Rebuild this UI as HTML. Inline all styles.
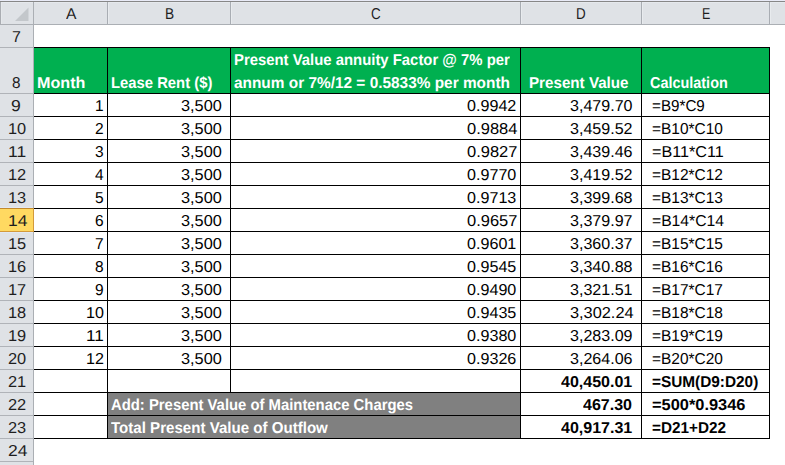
<!DOCTYPE html>
<html><head><meta charset="utf-8"><style>
html,body{margin:0;padding:0;}
body{width:785px;height:465px;overflow:hidden;position:relative;background:#fff;}
#g div{position:absolute;}
.t{position:absolute;font-family:"Liberation Sans",sans-serif;font-size:15.8px;line-height:16px;white-space:pre;transform-origin:0 0;color:#000;text-rendering:geometricPrecision;}
.b{font-weight:bold;}
</style></head><body>
<div id="g">
<div style="left:0px;top:0px;width:785px;height:1px;background:#e9ebf7"></div>
<div style="left:0px;top:1px;width:785px;height:1px;background:#878787"></div>
<div style="left:0px;top:2px;width:785px;height:22px;background:#dfe2e6"></div>
<div style="left:0px;top:2px;width:785px;height:1px;background:#e6e9ed"></div>
<div style="left:0px;top:24px;width:785px;height:1px;background:#abafb4"></div>
<div style="left:0px;top:25px;width:33px;height:440px;background:#dfe2e6"></div>
<div style="left:33px;top:2px;width:1px;height:463px;background:#abafb4"></div>
<div style="left:107px;top:2px;width:1px;height:22px;background:#a9adb3"></div>
<div style="left:108px;top:3px;width:1px;height:21px;background:#e8ebee"></div>
<div style="left:230px;top:2px;width:1px;height:22px;background:#a9adb3"></div>
<div style="left:231px;top:3px;width:1px;height:21px;background:#e8ebee"></div>
<div style="left:520px;top:2px;width:1px;height:22px;background:#a9adb3"></div>
<div style="left:521px;top:3px;width:1px;height:21px;background:#e8ebee"></div>
<div style="left:641px;top:2px;width:1px;height:22px;background:#a9adb3"></div>
<div style="left:642px;top:3px;width:1px;height:21px;background:#e8ebee"></div>
<div style="left:769px;top:2px;width:1px;height:22px;background:#a9adb3"></div>
<div style="left:770px;top:3px;width:1px;height:21px;background:#e8ebee"></div>
<div style="left:0px;top:2px;width:1px;height:22px;background:#aaadb2"></div>
<div style="left:1px;top:3px;width:1px;height:21px;background:#e5e8eb"></div>
<svg style="position:absolute;left:0;top:0" width="33" height="24"><polygon points="28.5,7.5 28.5,21 15,21" fill="#c3c7cb"/></svg>
<div style="left:0px;top:47px;width:33px;height:1px;background:#b0b3b8"></div>
<div style="left:0px;top:93px;width:33px;height:1px;background:#b0b3b8"></div>
<div style="left:0px;top:116px;width:33px;height:1px;background:#b0b3b8"></div>
<div style="left:0px;top:139px;width:33px;height:1px;background:#b0b3b8"></div>
<div style="left:0px;top:162px;width:33px;height:1px;background:#b0b3b8"></div>
<div style="left:0px;top:185px;width:33px;height:1px;background:#b0b3b8"></div>
<div style="left:0px;top:208px;width:33px;height:1px;background:#b0b3b8"></div>
<div style="left:0px;top:231px;width:33px;height:1px;background:#b0b3b8"></div>
<div style="left:0px;top:254px;width:33px;height:1px;background:#b0b3b8"></div>
<div style="left:0px;top:277px;width:33px;height:1px;background:#b0b3b8"></div>
<div style="left:0px;top:300px;width:33px;height:1px;background:#b0b3b8"></div>
<div style="left:0px;top:323px;width:33px;height:1px;background:#b0b3b8"></div>
<div style="left:0px;top:346px;width:33px;height:1px;background:#b0b3b8"></div>
<div style="left:0px;top:369px;width:33px;height:1px;background:#b0b3b8"></div>
<div style="left:0px;top:392px;width:33px;height:1px;background:#b0b3b8"></div>
<div style="left:0px;top:415px;width:33px;height:1px;background:#b0b3b8"></div>
<div style="left:0px;top:438px;width:33px;height:1px;background:#b0b3b8"></div>
<div style="left:0px;top:461px;width:33px;height:1px;background:#b0b3b8"></div>
<div style="left:0px;top:208px;width:33px;height:24px;background:#ffd961"></div>
<div style="left:0px;top:208px;width:33px;height:1px;background:#c28a2e"></div>
<div style="left:0px;top:231px;width:34px;height:1px;background:#d39a3a"></div>
<div style="left:33px;top:208px;width:1px;height:24px;background:#d39a3a"></div>
<div style="left:0px;top:207px;width:33px;height:1px;background:#e2e8f2"></div>
<div style="left:0px;top:232px;width:33px;height:1px;background:#e0e8f4"></div>
<div style="left:34px;top:48px;width:735px;height:45px;background:#00b050"></div>
<div style="left:108px;top:393px;width:412px;height:22px;background:#808080"></div>
<div style="left:108px;top:416px;width:412px;height:22px;background:#808080"></div>
<div style="left:34px;top:47px;width:736px;height:1px;background:#000"></div>
<div style="left:34px;top:93px;width:736px;height:1px;background:#000"></div>
<div style="left:34px;top:116px;width:736px;height:1px;background:#000"></div>
<div style="left:34px;top:139px;width:736px;height:1px;background:#000"></div>
<div style="left:34px;top:162px;width:736px;height:1px;background:#000"></div>
<div style="left:34px;top:185px;width:736px;height:1px;background:#000"></div>
<div style="left:34px;top:208px;width:736px;height:1px;background:#000"></div>
<div style="left:34px;top:231px;width:736px;height:1px;background:#000"></div>
<div style="left:34px;top:254px;width:736px;height:1px;background:#000"></div>
<div style="left:34px;top:277px;width:736px;height:1px;background:#000"></div>
<div style="left:34px;top:300px;width:736px;height:1px;background:#000"></div>
<div style="left:34px;top:323px;width:736px;height:1px;background:#000"></div>
<div style="left:34px;top:346px;width:736px;height:1px;background:#000"></div>
<div style="left:34px;top:369px;width:736px;height:1px;background:#000"></div>
<div style="left:34px;top:392px;width:736px;height:1px;background:#000"></div>
<div style="left:34px;top:415px;width:736px;height:1px;background:#000"></div>
<div style="left:34px;top:438px;width:736px;height:1px;background:#000"></div>
<div style="left:107px;top:47px;width:1px;height:392px;background:#000"></div>
<div style="left:230px;top:47px;width:1px;height:346px;background:#000"></div>
<div style="left:520px;top:47px;width:1px;height:392px;background:#000"></div>
<div style="left:641px;top:47px;width:1px;height:392px;background:#000"></div>
<div style="left:769px;top:47px;width:1px;height:392px;background:#000"></div>
</div>
<div class="t" style="left:65.90px;top:7.00px;color:#1e1e1e;transform:scaleX(0.9900)">A</div>
<div class="t" style="left:165.03px;top:7.00px;color:#1e1e1e;transform:scaleX(0.8667)">B</div>
<div class="t" style="left:370.75px;top:7.00px;color:#1e1e1e;transform:scaleX(0.8500)">C</div>
<div class="t" style="left:576.25px;top:7.00px;color:#1e1e1e;transform:scaleX(0.8500)">D</div>
<div class="t" style="left:702.21px;top:7.00px;color:#1e1e1e;transform:scaleX(0.7889)">E</div>
<div class="t" style="left:11.89px;top:30.00px;color:#1e1e1e;transform:scaleX(1.0143)">7</div>
<div class="t" style="left:12.13px;top:76.00px;color:#1e1e1e;transform:scaleX(0.9700)">8</div>
<div class="t" style="left:11.49px;top:99.00px;color:#1e1e1e;transform:scaleX(1.1143)">9</div>
<div class="t" style="left:7.86px;top:122.00px;color:#1e1e1e;transform:scaleX(1.0375)">10</div>
<div class="t" style="left:7.79px;top:145.00px;color:#1e1e1e;transform:scaleX(1.1067)">11</div>
<div class="t" style="left:7.86px;top:168.00px;color:#1e1e1e;transform:scaleX(1.0375)">12</div>
<div class="t" style="left:7.86px;top:191.00px;color:#1e1e1e;transform:scaleX(1.0375)">13</div>
<div class="t" style="left:7.79px;top:214.00px;color:#1e1e1e;transform:scaleX(1.1067)">14</div>
<div class="t" style="left:7.86px;top:237.00px;color:#1e1e1e;transform:scaleX(1.0375)">15</div>
<div class="t" style="left:7.86px;top:260.00px;color:#1e1e1e;transform:scaleX(1.0375)">16</div>
<div class="t" style="left:7.86px;top:283.00px;color:#1e1e1e;transform:scaleX(1.0375)">17</div>
<div class="t" style="left:7.86px;top:306.00px;color:#1e1e1e;transform:scaleX(1.0375)">18</div>
<div class="t" style="left:7.86px;top:329.00px;color:#1e1e1e;transform:scaleX(1.0375)">19</div>
<div class="t" style="left:7.86px;top:352.00px;color:#1e1e1e;transform:scaleX(1.0375)">20</div>
<div class="t" style="left:7.86px;top:375.00px;color:#1e1e1e;transform:scaleX(1.0375)">21</div>
<div class="t" style="left:7.86px;top:398.00px;color:#1e1e1e;transform:scaleX(1.0375)">22</div>
<div class="t" style="left:7.86px;top:421.00px;color:#1e1e1e;transform:scaleX(1.0375)">23</div>
<div class="t" style="left:7.79px;top:444.00px;color:#1e1e1e;transform:scaleX(1.1067)">24</div>
<div class="t b" style="left:36.58px;top:76.00px;color:#ffffff;transform:scaleX(1.0217)">Month</div>
<div class="t b" style="left:110.66px;top:76.00px;color:#ffffff;transform:scaleX(0.9387)">Lease Rent ($)</div>
<div class="t b" style="left:233.86px;top:53.00px;color:#ffffff;transform:scaleX(0.9418)">Present Value annuity Factor @ 7% per</div>
<div class="t b" style="left:233.83px;top:76.00px;color:#ffffff;transform:scaleX(0.9747)">annum or 7%/12 = 0.5833% per month</div>
<div class="t b" style="left:528.64px;top:76.00px;color:#ffffff;transform:scaleX(0.9608)">Present Value</div>
<div class="t b" style="left:649.79px;top:76.00px;color:#ffffff;transform:scaleX(0.9133)">Calculation</div>
<div class="t" style="left:95.46px;top:99.00px;transform:scaleX(0.9800)">1</div>
<div class="t" style="left:181.47px;top:99.00px;transform:scaleX(1.0316)">3,500</div>
<div class="t" style="left:467.28px;top:99.00px;transform:scaleX(1.0213)">0.9942</div>
<div class="t" style="left:570.48px;top:99.00px;transform:scaleX(1.0167)">3,479.70</div>
<div class="t" style="left:652.34px;top:99.00px;transform:scaleX(0.9623)">=B9*C9</div>
<div class="t" style="left:95.46px;top:122.00px;transform:scaleX(0.9800)">2</div>
<div class="t" style="left:181.47px;top:122.00px;transform:scaleX(1.0316)">3,500</div>
<div class="t" style="left:467.26px;top:122.00px;transform:scaleX(1.0435)">0.9884</div>
<div class="t" style="left:570.48px;top:122.00px;transform:scaleX(1.0167)">3,459.52</div>
<div class="t" style="left:652.32px;top:122.00px;transform:scaleX(0.9789)">=B10*C10</div>
<div class="t" style="left:95.46px;top:145.00px;transform:scaleX(0.9800)">3</div>
<div class="t" style="left:181.47px;top:145.00px;transform:scaleX(1.0316)">3,500</div>
<div class="t" style="left:467.26px;top:145.00px;transform:scaleX(1.0435)">0.9827</div>
<div class="t" style="left:570.48px;top:145.00px;transform:scaleX(1.0167)">3,439.46</div>
<div class="t" style="left:652.28px;top:145.00px;transform:scaleX(1.0221)">=B11*C11</div>
<div class="t" style="left:95.46px;top:168.00px;transform:scaleX(0.9800)">4</div>
<div class="t" style="left:181.47px;top:168.00px;transform:scaleX(1.0316)">3,500</div>
<div class="t" style="left:467.28px;top:168.00px;transform:scaleX(1.0213)">0.9770</div>
<div class="t" style="left:570.48px;top:168.00px;transform:scaleX(1.0167)">3,419.52</div>
<div class="t" style="left:652.32px;top:168.00px;transform:scaleX(0.9789)">=B12*C12</div>
<div class="t" style="left:95.46px;top:191.00px;transform:scaleX(0.9800)">5</div>
<div class="t" style="left:181.47px;top:191.00px;transform:scaleX(1.0316)">3,500</div>
<div class="t" style="left:467.28px;top:191.00px;transform:scaleX(1.0213)">0.9713</div>
<div class="t" style="left:570.48px;top:191.00px;transform:scaleX(1.0167)">3,399.68</div>
<div class="t" style="left:652.32px;top:191.00px;transform:scaleX(0.9789)">=B13*C13</div>
<div class="t" style="left:95.46px;top:214.00px;transform:scaleX(0.9800)">6</div>
<div class="t" style="left:181.47px;top:214.00px;transform:scaleX(1.0316)">3,500</div>
<div class="t" style="left:467.26px;top:214.00px;transform:scaleX(1.0435)">0.9657</div>
<div class="t" style="left:570.48px;top:214.00px;transform:scaleX(1.0167)">3,379.97</div>
<div class="t" style="left:652.31px;top:214.00px;transform:scaleX(0.9929)">=B14*C14</div>
<div class="t" style="left:95.46px;top:237.00px;transform:scaleX(0.9800)">7</div>
<div class="t" style="left:181.47px;top:237.00px;transform:scaleX(1.0316)">3,500</div>
<div class="t" style="left:467.28px;top:237.00px;transform:scaleX(1.0213)">0.9601</div>
<div class="t" style="left:570.48px;top:237.00px;transform:scaleX(1.0167)">3,360.37</div>
<div class="t" style="left:652.32px;top:237.00px;transform:scaleX(0.9789)">=B15*C15</div>
<div class="t" style="left:95.46px;top:260.00px;transform:scaleX(0.9800)">8</div>
<div class="t" style="left:181.47px;top:260.00px;transform:scaleX(1.0316)">3,500</div>
<div class="t" style="left:467.28px;top:260.00px;transform:scaleX(1.0213)">0.9545</div>
<div class="t" style="left:570.48px;top:260.00px;transform:scaleX(1.0167)">3,340.88</div>
<div class="t" style="left:652.32px;top:260.00px;transform:scaleX(0.9789)">=B16*C16</div>
<div class="t" style="left:95.46px;top:283.00px;transform:scaleX(0.9800)">9</div>
<div class="t" style="left:181.47px;top:283.00px;transform:scaleX(1.0316)">3,500</div>
<div class="t" style="left:467.28px;top:283.00px;transform:scaleX(1.0213)">0.9490</div>
<div class="t" style="left:570.48px;top:283.00px;transform:scaleX(1.0167)">3,321.51</div>
<div class="t" style="left:652.32px;top:283.00px;transform:scaleX(0.9789)">=B17*C17</div>
<div class="t" style="left:85.98px;top:306.00px;transform:scaleX(1.0188)">10</div>
<div class="t" style="left:181.47px;top:306.00px;transform:scaleX(1.0316)">3,500</div>
<div class="t" style="left:467.28px;top:306.00px;transform:scaleX(1.0213)">0.9435</div>
<div class="t" style="left:570.47px;top:306.00px;transform:scaleX(1.0339)">3,302.24</div>
<div class="t" style="left:652.32px;top:306.00px;transform:scaleX(0.9789)">=B18*C18</div>
<div class="t" style="left:85.91px;top:329.00px;transform:scaleX(1.0867)">11</div>
<div class="t" style="left:181.47px;top:329.00px;transform:scaleX(1.0316)">3,500</div>
<div class="t" style="left:467.28px;top:329.00px;transform:scaleX(1.0213)">0.9380</div>
<div class="t" style="left:570.48px;top:329.00px;transform:scaleX(1.0167)">3,283.09</div>
<div class="t" style="left:652.32px;top:329.00px;transform:scaleX(0.9789)">=B19*C19</div>
<div class="t" style="left:85.98px;top:352.00px;transform:scaleX(1.0188)">12</div>
<div class="t" style="left:181.47px;top:352.00px;transform:scaleX(1.0316)">3,500</div>
<div class="t" style="left:467.28px;top:352.00px;transform:scaleX(1.0213)">0.9326</div>
<div class="t" style="left:570.48px;top:352.00px;transform:scaleX(1.0167)">3,264.06</div>
<div class="t" style="left:652.32px;top:352.00px;transform:scaleX(0.9789)">=B20*C20</div>
<div class="t b" style="left:561.00px;top:375.00px;transform:scaleX(1.0143)">40,450.01</div>
<div class="t b" style="left:652.33px;top:375.00px;transform:scaleX(0.9722)">=SUM(D9:D20)</div>
<div class="t b" style="left:110.56px;top:398.00px;color:#ffffff;transform:scaleX(0.9400)">Add: Present Value of Maintenace Charges</div>
<div class="t b" style="left:583.30px;top:398.00px;transform:scaleX(1.0146)">467.30</div>
<div class="t b" style="left:652.26px;top:398.00px;transform:scaleX(1.0382)">=500*0.9346</div>
<div class="t b" style="left:111.40px;top:421.00px;color:#ffffff;transform:scaleX(0.9551)">Total Present Value of Outflow</div>
<div class="t b" style="left:561.00px;top:421.00px;transform:scaleX(1.0143)">40,917.31</div>
<div class="t b" style="left:652.33px;top:421.00px;transform:scaleX(0.9680)">=D21+D22</div>
</body></html>
